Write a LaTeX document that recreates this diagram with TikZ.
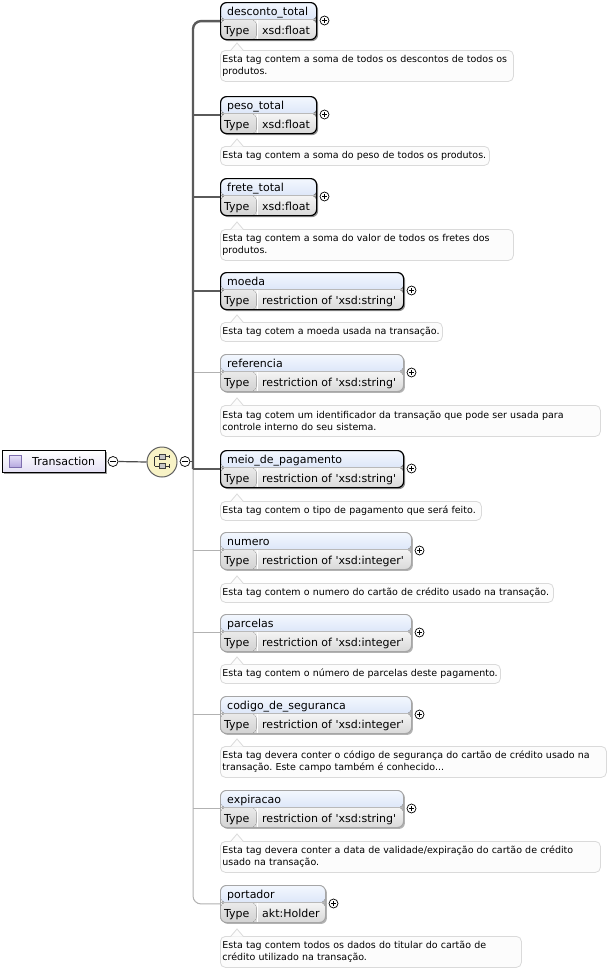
\documentclass[tikz,border=0pt]{standalone}
\usepackage{fontspec}
\newfontfamily\dv{DejaVu Sans}[Ligatures=TeXOff]
\usetikzlibrary{shadows,calc}
\pgfdeclarelayer{bg}
\pgfsetlayers{bg,main}
\definecolor{hdtop}{HTML}{F3F7FE}
\definecolor{hdbot}{HTML}{C3D4F2}
\definecolor{tytop}{HTML}{F5F5F5}
\definecolor{tybot}{HTML}{D9D9D9}
\definecolor{tktop}{HTML}{EAEAEA}
\definecolor{tkbot}{HTML}{D2D2D2}
\definecolor{cmtfill}{HTML}{FCFCFC}
\definecolor{cmtline}{HTML}{DADADA}
\definecolor{busdark}{HTML}{5A5A5A}
\definecolor{buslight}{HTML}{B2B2B2}
\definecolor{seqfill}{HTML}{F8F3C6}
\definecolor{lavbot}{HTML}{E4E0F4}
\definecolor{icotop}{HTML}{E6E0F8}
\definecolor{icobot}{HTML}{B4A6DE}
\definecolor{icoline}{HTML}{7E6EAE}
\tikzset{
  x=1pt, y=-1pt,
  ttl/.style={anchor=base west, inner sep=0pt, font=\dv\fontsize{11}{13}\selectfont},
  elbox/.style={rectangle, rounded corners=6pt, minimum height=37pt, inner sep=0pt, anchor=north west,
    path picture={
      \fill[top color=hdtop, bottom color=hdbot] (path picture bounding box.north west) rectangle ([yshift=-17pt]path picture bounding box.north east);
      \fill[top color=tytop, bottom color=tybot] ([yshift=-17pt]path picture bounding box.north west) rectangle (path picture bounding box.south east);
      \fill[top color=tktop, bottom color=tkbot] ([yshift=-17pt]path picture bounding box.north west) rectangle ([xshift=36pt]path picture bounding box.south west);
      \draw[gray!55, line width=0.6pt] ([yshift=-17pt]path picture bounding box.north west) -- ([yshift=-17pt]path picture bounding box.north east);
      \draw[white, line width=0.8pt] ([xshift=36.5pt,yshift=-17.5pt]path picture bounding box.north west) -- ([xshift=36.5pt]path picture bounding box.south west);
    }},
  reqbox/.style={draw=black, line width=1.2pt, drop shadow={shadow xshift=1.5pt, shadow yshift=-1.5pt, opacity=0.45, fill=black}},
  optbox/.style={draw=gray!70, line width=0.9pt, drop shadow={shadow xshift=1.5pt, shadow yshift=-1.5pt, opacity=0.3, fill=black}},
  plusc/.style={circle, draw=black, fill=white, line width=0.7pt, minimum size=9pt, inner sep=0pt,
    path picture={
      \draw[line width=0.7pt] ([xshift=-2.4pt]path picture bounding box.center) -- ([xshift=2.4pt]path picture bounding box.center);
      \draw[line width=0.7pt] ([yshift=-2.4pt]path picture bounding box.center) -- ([yshift=2.4pt]path picture bounding box.center);
    }},
  minusc/.style={circle, draw=black, fill=white, line width=0.7pt, minimum size=10pt, inner sep=0pt,
    path picture={
      \draw[line width=0.7pt] ([xshift=-2.6pt]path picture bounding box.center) -- ([xshift=2.6pt]path picture bounding box.center);
    }},
  cmt/.style={rectangle, rounded corners=5pt, draw=cmtline, line width=0.8pt, fill=cmtfill, anchor=north west,
    inner xsep=2pt, inner ysep=0pt, align=left, font=\dv\fontsize{9.5}{12}\selectfont\frenchspacing},
  busreq/.style={draw=busdark, line width=2.4pt},
  busopt/.style={draw=buslight, line width=1pt},
  link/.style={draw=black!70, line width=1.2pt},
  transbox/.style={rectangle, draw=black, line width=0.9pt, top color=white, bottom color=lavbot,
    drop shadow={shadow xshift=2pt, shadow yshift=-2pt, opacity=0.4, fill=black},
    anchor=north west, minimum width=103pt, minimum height=22pt, inner sep=0pt},
  icon/.style={rectangle, minimum size=12pt, inner sep=0pt, top color=icotop, bottom color=icobot, draw=icoline, line width=0.8pt},
  seqc/.style={circle, minimum size=30pt, inner sep=0pt, fill=seqfill, draw=gray!75!black, line width=1pt},
  seqsq/.style={rectangle, minimum width=6pt, minimum height=5pt, inner sep=0pt, fill=gray!45, draw=black!75, line width=0.6pt},
  seqln/.style={draw=black!80, line width=0.7pt},
}
\newcommand\xel[6]{%
  \node[elbox,#6,minimum width=#3pt] (#1) at (220,#2) {};
  \node[ttl] (#1-n) at (227,{#2+13}) {#4};
  \node[ttl] (#1-k) at (224,{#2+32}) {Type};
  \node[ttl] (#1-v) at (262,{#2+32}) {#5};
  \node[plusc] (#1-p) at ({220+#3+8.5},{#2+18.5}) {};
}
\newcommand\xcm[5]{%
  \pgfmathsetlengthmacro{\cmtw}{#3pt-4pt}%
  \node[cmt, minimum width=#3pt, minimum height=#4pt, text width=\cmtw] (#1) at (220,#2) {#5};
  \fill[cmtfill] ([xshift=11pt,yshift=-0.7pt]#1.north west) -- ++(6pt,7.7pt) -- ++(6pt,-7.7pt) -- cycle;
  \draw[cmtline, line width=0.8pt] ([xshift=11pt]#1.north west) -- ++(6pt,7pt) -- ++(6pt,-7pt);
}
\begin{document}
\begin{tikzpicture}
\useasboundingbox (0,0) rectangle (614,972);
\begin{pgfonlayer}{bg}
\fill[white] (0,0) rectangle (614,972);
\end{pgfonlayer}
\coordinate (busx) at (193,0);
% element boxes
\xel{desconto}{2}{96}{desconto\_total}{xsd:float}{reqbox}
\xel{peso}{96}{96}{peso\_total}{xsd:float}{reqbox}
\xel{frete}{178}{96}{frete\_total}{xsd:float}{reqbox}
\xel{moeda}{272}{183}{moeda}{restriction of 'xsd:string'}{reqbox}
\xel{referencia}{354}{183}{referencia}{restriction of 'xsd:string'}{optbox}
\xel{meio}{450}{183}{meio\_de\_pagamento}{restriction of 'xsd:string'}{reqbox}
\xel{numero}{532}{191}{numero}{restriction of 'xsd:integer'}{optbox}
\xel{parcelas}{614}{191}{parcelas}{restriction of 'xsd:integer'}{optbox}
\xel{codigo}{696}{191}{codigo\_de\_seguranca}{restriction of 'xsd:integer'}{optbox}
\xel{expiracao}{790}{183}{expiracao}{restriction of 'xsd:string'}{optbox}
\xel{portador}{885}{105}{portador}{akt:Holder}{optbox}
% bus lines (behind the boxes)
\begin{pgfonlayer}{bg}
\draw[busopt, rounded corners=8pt] (busx |- meio.west) |- (portador.west);
\foreach \n in {referencia,numero,parcelas,codigo,expiracao}
  \draw[busopt] (busx |- \n.west) -- (\n.west);
\draw[busreq, rounded corners=8pt] (desconto.west) -| (busx |- meio.west);
\draw[busreq] (busx |- meio.west) -- (meio.west);
\foreach \n in {peso,frete,moeda}
  \draw[busreq] (busx |- \n.west) -- (\n.west);
\end{pgfonlayer}
% comments
\xcm{c-desconto}{50}{293}{31}{Esta tag contem a soma de todos os descontos de todos os\\produtos.}
\xcm{c-peso}{146}{269}{19}{Esta tag contem a soma do peso de todos os produtos.}
\xcm{c-frete}{229}{293}{31}{Esta tag contem a soma do valor de todos os fretes dos\\produtos.}
\xcm{c-moeda}{322}{222}{19}{Esta tag cotem a moeda usada na transação.}
\xcm{c-referencia}{405}{380}{31}{Esta tag cotem um identificador da transação que pode ser usada para\\controle interno do seu sistema.}
\xcm{c-meio}{501}{261}{19}{Esta tag contem o tipo de pagamento que será feito.}
\xcm{c-numero}{583}{333}{19}{Esta tag contem o numero do cartão de crédito usado na transação.}
\xcm{c-parcelas}{664}{280}{19}{Esta tag contem o número de parcelas deste pagamento.}
\xcm{c-codigo}{746}{386}{31}{Esta tag devera conter o código de segurança do cartão de crédito usado na\\transação. Este campo também é conhecido...}
\xcm{c-expiracao}{841}{380}{31}{Esta tag devera conter a data de validade/expiração do cartão de crédito\\usado na transação.}
\xcm{c-portador}{936}{301}{31}{Esta tag contem todos os dados do titular do cartão de\\crédito utilizado na transação.}
% root element and sequence compositor
\node[transbox] (trans) at (2,450) {};
\node[icon] (trans-i) at (15.5,461.5) {};
\node[ttl] (trans-t) at (32,465) {Transaction};
\node[minusc] (trans-m) at (113,461.5) {};
\node[seqc] (seq) at (162,462) {};
\node[minusc] (seq-m) at (185,461.5) {};
\draw[link] (trans-m.east) -- (seq.west);
\draw[link] (seq-m.east) -- (seq-m.east -| busx);
\node[seqsq] (seq-a) at (162,456.5) {};
\node[seqsq] (seq-b) at (162,466) {};
\draw[seqln] ([xshift=-4pt]seq-a.west) -- (seq-a.west);
\draw[seqln] (seq-a.east) -- ([xshift=4pt]seq-a.east);
\draw[seqln] ([xshift=-4pt]seq-b.west) -- (seq-b.west);
\draw[seqln] (seq-b.east) -- ([xshift=4pt]seq-b.east);
\draw[seqln] ([xshift=-4pt]seq-a.west) -- ([xshift=-4pt]seq-b.west);
\draw[seqln] ([xshift=4pt,yshift=1.6pt]seq-a.east) -- ([xshift=4pt,yshift=-1.6pt]seq-a.east);
\draw[seqln] ([xshift=4pt,yshift=1.6pt]seq-b.east) -- ([xshift=4pt,yshift=-1.6pt]seq-b.east);
\end{tikzpicture}
\end{document}
